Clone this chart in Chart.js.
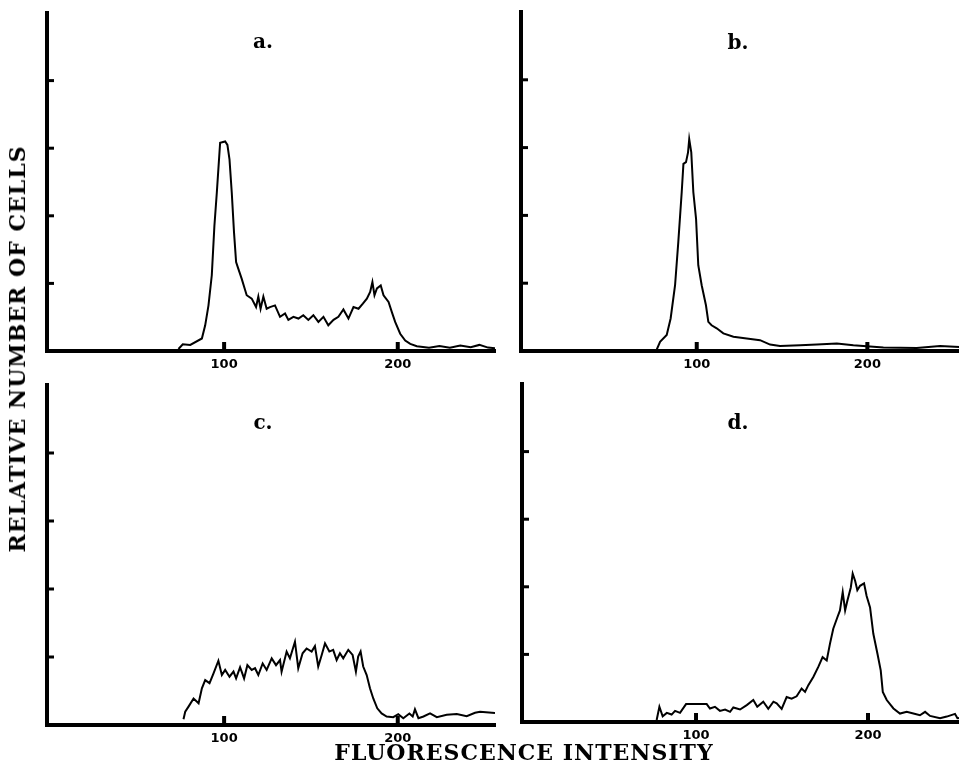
<!DOCTYPE html>
<html>
<head>
<meta charset="utf-8">
<script src="https://cdn.jsdelivr.net/npm/chart.js@4.4.0/dist/chart.umd.min.js"></script>
<style>
  body { margin: 0; width: 959px; height: 766px; background: #fff; position: relative; overflow: hidden; }
  canvas { position: absolute; }
  .lbl { position: absolute; font-family: "DejaVu Serif", serif; font-weight: bold; color: #000;
         transform: translate(-50%, -50%); white-space: nowrap; }
  .panel { font-size: 20px; }
  .axisTitle { font-size: 22px; letter-spacing: 1px; }
</style>
</head>
<body>
<canvas id="panelA" width="500" height="381" style="left:0;top:0"></canvas>
<canvas id="panelB" width="480" height="381" style="left:480px;top:0"></canvas>
<canvas id="panelC" width="500" height="385" style="left:0;top:370px"></canvas>
<canvas id="panelD" width="480" height="382" style="left:480px;top:370px"></canvas>

<div class="lbl panel" style="left:263px;top:41px">a.</div>
<div class="lbl panel" style="left:738px;top:42px">b.</div>
<div class="lbl panel" style="left:263px;top:422px">c.</div>
<div class="lbl panel" style="left:738px;top:422px">d.</div>
<div class="lbl axisTitle" style="left:17px;top:349px;transform:translate(-50%,-50%) rotate(-90deg)">RELATIVE NUMBER OF CELLS</div>
<div class="lbl axisTitle" style="left:524px;top:752px">FLUORESCENCE INTENSITY</div>

<script>
// tick positions
const xTickValues = [100, 200];
const yTickValues = [20, 40, 60, 80];

// panel a
const channelsA = [73.7, 76.2, 80.5, 87.2, 89.1, 91.0, 92.9, 94.4, 95.8, 97.7, 100.6, 101.9, 103.1, 104.4, 105.7,
  106.9, 108.2, 110.1, 113, 115.9, 118.4, 119.7, 121, 122.6, 124.5, 126.4, 129.3, 132.2, 135.1, 137, 139.9,
  142.8, 145.6, 148.5, 151.4, 154.3, 157.2, 160, 163, 165.8, 168.7, 171.6, 174.5, 177.4, 179.9, 182.2, 184.1,
  185.4, 186.6, 188, 190.2, 191.8, 194.7, 196.6, 198.5, 201.4, 204.3, 207.2, 211, 218, 224, 230, 236, 242,
  247, 252, 256];
const countsA = [0.6, 2.0, 1.8, 3.7, 7.6, 13.5, 22.4, 37, 46.9, 61.6, 62, 61, 56.7, 46.9, 35.1,
  26.3, 24.3, 21.4, 16.5, 15.5, 13, 16.1, 12.5, 16.1, 12.5, 13, 13.5, 10.1, 11.1, 9.2, 10.1,
  9.6, 10.6, 9.2, 10.6, 8.6, 10.1, 7.6, 9.2, 10.1, 12.3, 9.6, 13, 12.5, 14, 15.5, 17.5,
  20.4, 16.5, 18.5, 19.4, 16.5, 14.5, 11.5, 8.6, 5.1, 3.1, 2.1, 1.4, 1.0, 1.5, 1.0, 1.6, 1.1,
  1.8, 1.0, 0.8];

// panel b
const channelsB = [76.2, 78.5, 82.4, 84.7, 87.3, 89.2, 91.2, 92.2, 93.7, 94.9, 95.6, 96.8, 98, 99.6, 100.9,
  102.9, 105.4, 106.8, 108.7, 111.7, 115.6, 121.5, 129.3, 137.1, 143, 148.8, 160.6, 170.4, 182.1, 191.8,
  199.6, 209.4, 228.9, 242.6, 254];
const countsB = [0, 2.7, 4.7, 9.6, 19.4, 32.2, 46.9, 55.2, 55.7, 58.6, 62.5, 58.6, 46.9, 39, 25.3,
  19.4, 13.5, 8.6, 7.6, 6.7, 5.2, 4.2, 3.7, 3.2, 1.9, 1.5, 1.7, 1.9, 2.2, 1.7,
  1.4, 1.0, 0.9, 1.5, 1.2];

// panel c
const channelsC = [76.6, 77.6, 79.5, 82.4, 85.3, 87.2, 89.1, 91.6, 93.9, 96.7, 98.7, 100.6, 103.1, 105.4, 106.9,
  109.2, 111.5, 113.4, 115.9, 117.8, 119.7, 122.2, 124.5, 127.4, 129.9, 132.2, 133.1, 136, 137.9, 140.8,
  142.7, 145.2, 147.5, 150.4, 152.3, 154.2, 156.2, 158.1, 160.6, 162.8, 164.8, 166.7, 168.6, 171.5, 174,
  175.9, 177.2, 178.6, 180.1, 182.1, 184, 185.9, 188.2, 190.7, 193.6, 197.4, 200.3, 203.2, 206.7, 208.6,
  209.9, 211.9, 214.8, 218.6, 222.5, 228.2, 234, 239.7, 244.5, 247.4, 256];
const countsC = [1.7, 3.9, 5.4, 7.8, 6.4, 10.8, 13.2, 12.3, 15.2, 18.9, 14.7, 16.2, 14.2, 15.7, 13.7,
  17, 13.7, 17.6, 16.2, 16.7, 14.7, 18.1, 16.2, 19.6, 17.6, 19.1, 15.7, 21.6, 19.6, 24.5,
  16.7, 21.1, 22.5, 21.6, 23.2, 17.2, 20.6, 24.0, 21.6, 22.1, 19.1, 21.1, 19.6, 22.1, 20.6,
  15.7, 20.1, 21.6, 17.2, 14.7, 10.8, 7.8, 4.9, 3.4, 2.5, 2.3, 3.2, 2.0, 3.4, 2.5,
  4.6, 2.0, 2.5, 3.4, 2.3, 3.0, 3.2, 2.6, 3.6, 3.9, 3.5];

// panel d
const channelsD = [77.1, 78.7, 80.6, 83, 85.8, 87.8, 90.7, 94.2, 98.4, 102.3, 106.2, 108.1, 111, 113.9, 116.9,
  119.8, 121.7, 125.6, 129.5, 133.3, 135.6, 139.1, 142, 145, 146.9, 149.8, 152.7, 155.6, 158.5, 161.4,
  163.4, 165.3, 168.2, 171.1, 173.6, 176, 177.9, 179.8, 182.2, 183.7, 185.3, 186.7, 188, 190, 191.1,
  192.5, 193.8, 195.4, 197.7, 199.2, 201.2, 203.1, 205.5, 207.4, 208.6, 210.9, 214.8, 218.6, 222.5, 226.4,
  230.2, 233.2, 236.1, 241.9, 245.8, 250.6, 252, 254];
const countsD = [0.6, 4.5, 1.7, 2.7, 2.2, 3.3, 2.7, 5.3, 5.3, 5.3, 5.3, 4.0, 4.5, 3.3, 3.7,
  3.0, 4.3, 3.7, 5.0, 6.5, 4.5, 6.0, 3.9, 6.0, 5.5, 3.9, 7.4, 6.9, 7.6, 9.9,
  8.9, 10.9, 13.3, 16.3, 19.2, 18.2, 23.2, 27.6, 31, 33, 38.4, 33, 35.9, 39.8, 43.9,
  41.8, 39, 40.3, 41, 37.3, 33.9, 26.1, 20.2, 15.3, 8.9, 6.5, 4.0, 2.5, 3.0, 2.5,
  2.0, 3.0, 1.8, 1.1, 1.6, 2.4, 1.1, 1.2];

// short inward tick marks on both axes
const innerTicks = {
  id: 'innerTicks',
  afterDraw(chart) {
    const { ctx, chartArea, scales: { x, y } } = chart;
    ctx.save();
    ctx.strokeStyle = '#000';
    ctx.lineWidth = 3;
    yTickValues.forEach(v => {
      const py = y.getPixelForValue(v);
      ctx.beginPath();
      ctx.moveTo(chartArea.left, py);
      ctx.lineTo(chartArea.left + 7, py);
      ctx.stroke();
    });
    ctx.lineWidth = 4;
    xTickValues.forEach(v => {
      const px = x.getPixelForValue(v);
      ctx.beginPath();
      ctx.moveTo(px, chartArea.bottom);
      ctx.lineTo(px, chartArea.bottom - 9);
      ctx.stroke();
    });
    ctx.restore();
  }
};

function makePanel(id, channels, counts, xMin, xMax, pad) {
  const ctx = document.getElementById(id).getContext('2d');
  new Chart(ctx, {
    type: 'line',
    data: {
      datasets: [{
        data: channels.map((c, i) => ({ x: c, y: counts[i] })),
        borderColor: '#000',
        borderWidth: 2,
        pointRadius: 0,
        tension: 0,
        fill: false
      }]
    },
    options: {
      responsive: false,
      animation: false,
      layout: { padding: pad },
      plugins: { legend: { display: false }, tooltip: { enabled: false } },
      scales: {
        x: {
          type: 'linear',
          min: xMin,
          max: xMax,
          afterFit: s => { s.height = 30; },
          afterBuildTicks: s => { s.ticks = xTickValues.map(v => ({ value: v })); },
          grid: { drawOnChartArea: false, drawTicks: false },
          border: { display: true, width: 4, color: '#000' },
          ticks: { color: '#000', padding: 6, font: { family: 'DejaVu Sans', weight: 'bold', size: 13 } }
        },
        y: {
          min: 0,
          max: 100,
          afterFit: s => { s.width = 0; },
          afterBuildTicks: s => { s.ticks = yTickValues.map(v => ({ value: v })); },
          grid: { drawOnChartArea: false, drawTicks: false },
          border: { display: true, width: 4, color: '#000' },
          ticks: { display: false }
        }
      }
    },
    plugins: [innerTicks]
  });
}

makePanel('panelA', channelsA, countsA, -2, 256, { left: 47, top: 13, right: 5, bottom: 0 });
makePanel('panelB', channelsB, countsB, -3, 254.3, { left: 41, top: 12, right: 0, bottom: 0 });
makePanel('panelC', channelsC, countsC, -2, 256, { left: 47, top: 15, right: 5, bottom: 0 });
makePanel('panelD', channelsD, countsD, -1.2, 253.5, { left: 42, top: 14, right: 0, bottom: 0 });
</script>
</body>
</html>
